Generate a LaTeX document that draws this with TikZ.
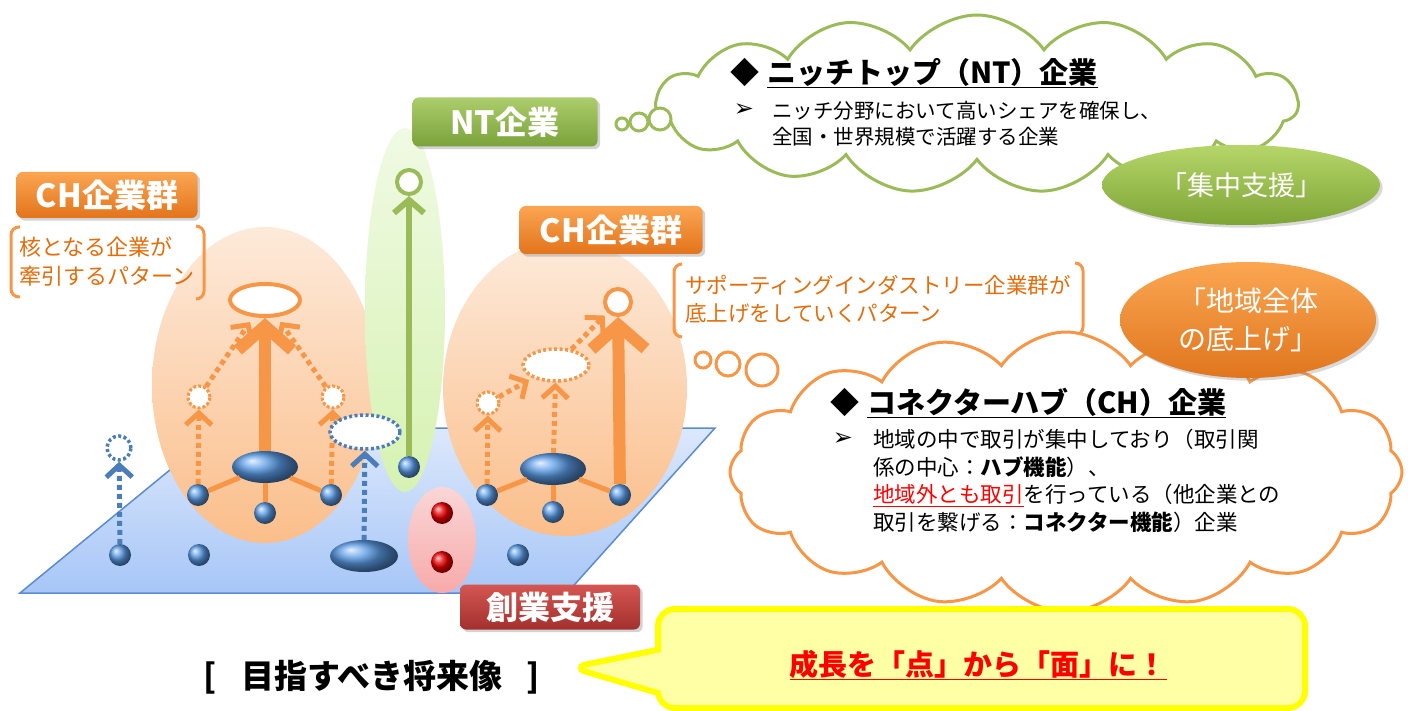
\documentclass[tikz,border=0pt]{standalone}
\usepackage{fontspec}
\setmainfont{Noto Sans CJK JP}
\newfontfamily\dejavu{DejaVu Sans}
\usetikzlibrary{shapes.geometric,shapes.symbols,arrows.meta,shadows}
\definecolor{corange}{HTML}{F79646}
\definecolor{ctxtor}{HTML}{E46C0A}
\definecolor{cgreen}{HTML}{9BBB59}
\definecolor{cblue}{HTML}{5A9BE6}
\definecolor{cbluedot}{HTML}{4A7EBB}
\definecolor{cplaneT}{HTML}{DCE8FC}
\definecolor{cplaneB}{HTML}{A7C6F7}
\definecolor{cplaneD}{HTML}{5B8BD0}
\definecolor{cyfill}{HTML}{FFFFA6}
\definecolor{cyline}{HTML}{FFFF00}
\begin{document}
\begin{tikzpicture}[x=1pt,y=-1pt,
  ballnode/.style={circle, minimum size=22pt, inner sep=0pt, shading=ball, ball color=cblue},
  flatball/.style={ellipse, minimum width=66pt, minimum height=32pt, inner sep=0pt, shading=ball, ball color=cblue},
  redball/.style={circle, minimum size=22pt, inner sep=0pt, shading=ball, ball color=red!95!black},
  ordashcirc/.style={circle, minimum size=22pt, inner sep=0pt, fill=white, draw=corange, line width=3pt, dash pattern=on 3pt off 2pt},
  ordashell/.style={ellipse, minimum width=66pt, minimum height=32pt, inner sep=0pt, fill=white, draw=corange, line width=3.5pt, dash pattern=on 3pt off 2.5pt},
  bldashcirc/.style={circle, minimum size=24pt, inner sep=0pt, fill=white, draw=cbluedot, line width=3.5pt, dash pattern=on 3pt off 2.5pt},
  bldashell/.style={ellipse, minimum width=70pt, minimum height=34pt, inner sep=0pt, fill=white, draw=cbluedot, line width=3.5pt, dash pattern=on 3pt off 2.5pt},
  orline/.style={draw=corange, line width=5pt},
  ordot/.style={draw=corange, line width=5pt, dash pattern=on 5pt off 4pt, -{Straight Barb[length=12pt,width=26pt]}},
  bldot/.style={draw=cbluedot, line width=5pt, dash pattern=on 5pt off 4pt, -{Straight Barb[length=12pt,width=26pt]}},
  bigarrow/.style={draw=corange, line width=12pt, -{Straight Barb[length=24pt,width=54pt]}},
  grarrow/.style={draw=cgreen, line width=6pt, -{Straight Barb[length=13pt,width=30pt]}},
  labelbox/.style={rounded corners=6pt, inner sep=0pt, text=white, font=\bfseries\fontsize{32}{36}\selectfont, drop shadow={opacity=0.35}},
  orbox/.style={labelbox, top color={rgb,255:red,251;green,165;blue,82}, bottom color={rgb,255:red,227;green,116;blue,27}},
  grbox/.style={labelbox, top color={rgb,255:red,172;green,205;blue,108}, bottom color={rgb,255:red,122;green,162;blue,58}},
  rdbox/.style={labelbox, top color={rgb,255:red,212;green,86;blue,82}, bottom color={rgb,255:red,163;green,48;blue,45}},
  brk/.style={draw=corange, line width=3pt, rounded corners=8pt},
  brtext/.style={anchor=west, align=left, inner sep=0pt, text=ctxtor},
  cloudtext/.style={anchor=west, align=left, inner sep=0pt, text=black}
]
\useasboundingbox (0,0) rectangle (1408,711);

% ground plane
\shade[top color=cplaneT, bottom color=cplaneB, draw=cplaneD, line width=1.5pt]
  (20,593) -- (567,593) -- (715,428) -- (221,428) -- cycle;

% group ellipses
\shade[top color={rgb,255:red,253;green,234;blue,218}, bottom color={rgb,255:red,251;green,190;blue,138}]
  (265,385) ellipse (113pt and 158pt);
\shade[top color={rgb,255:red,253;green,234;blue,218}, bottom color={rgb,255:red,251;green,190;blue,138}]
  (565,388) ellipse (122pt and 148pt);
\shade[top color={rgb,255:red,240;green,250;blue,228}, bottom color={rgb,255:red,214;green,242;blue,178}]
  (405,310) ellipse (40pt and 182pt);
\shade[top color={rgb,255:red,250;green,214;blue,214}, bottom color={rgb,255:red,247;green,170;blue,170}]
  (442,540) ellipse (34pt and 53pt);

% left CH group
\node[ballnode] (lb1) at (198,495) {};
\node[ballnode] (lb2) at (265,513) {};
\node[ballnode] (lb3) at (331,495) {};
\node[flatball] (lbe) at (265,467) {};
\node[ordashcirc] (lsc1) at (199,397) {};
\node[ordashcirc] (lsc2) at (333,397) {};
\node[ellipse, minimum width=70pt, minimum height=32pt, inner sep=0pt, fill=white, draw=corange, line width=4pt] (lte) at (265,300) {};
\draw[orline] (lb1) -- (lbe);
\draw[orline] (lb3) -- (lbe);
\draw[orline] (lb2) -- (lbe);
\draw[bigarrow] (lbe) -- (lte);
\draw[ordot] (lb1) -- (lsc1);
\draw[ordot] (lb3) -- (lsc2);
\draw[ordot, shorten >=6pt] (lsc1) -- (lte);
\draw[ordot, shorten >=6pt] (lsc2) -- (lte);

% right CH group
\node[ballnode] (rb1) at (487,495) {};
\node[ballnode] (rb2) at (553,512) {};
\node[ballnode] (rb3) at (620,495) {};
\node[flatball] (rbe) at (553,469) {};
\node[ordashcirc] (rsc) at (488,403) {};
\node[ordashell] (rde) at (556,365) {};
\node[circle, minimum size=26pt, inner sep=0pt, fill=white, draw=corange, line width=4pt] (rtop) at (618,302) {};
\draw[orline] (rb1) -- (rbe);
\draw[orline] (rb2) -- (rbe);
\draw[orline] (rb3) -- (rbe);
\draw[bigarrow] (rb3) -- (rtop);
\draw[ordot] (rb1) -- (rsc);
\draw[ordot] (rbe) -- (rde);
\draw[ordot, shorten >=4pt] (rsc) -- (rde);
\draw[ordot, shorten >=4pt] (rde) -- (rtop);

% middle / loose firms
\node[ballnode] (d1) at (120,555) {};
\node[bldashcirc] (dc) at (119,448) {};
\draw[bldot] (d1) -- (dc);
\node[ballnode] (d2) at (199,555) {};
\node[flatball, minimum width=68pt] (fe) at (364,556) {};
\node[bldashell] (de) at (365,432) {};
\draw[bldot] (fe) -- (de);
\node[ballnode] (d3) at (518,555) {};
\node[redball] (r1) at (442,513) {};
\node[redball] (r2) at (442,562) {};

% NT firm
\node[ballnode] (nb) at (409,467) {};
\node[circle, minimum size=24pt, inner sep=0pt, fill=white, draw=cgreen, line width=4pt] (gc) at (409,182) {};
\draw[grarrow] (nb) -- (gc);

% labels
\node[orbox, minimum width=181pt, minimum height=46pt] (chl) at (107,195) {CH企業群};
\node[grbox, minimum width=185pt, minimum height=49pt] (ntl) at (505,122) {NT企業};
\node[orbox, minimum width=183pt, minimum height=48pt] (chr) at (611,230) {CH企業群};
\node[rdbox, minimum width=180pt, minimum height=45pt] (sgl) at (550,607) {創業支援};

% bracket texts
\draw[brk] (20,227) -- (11,227) -- (11,297) -- (20,297);
\draw[brk] (196,226) -- (204,226) -- (204,299) -- (196,299);
\node[brtext, font=\fontsize{22}{29}\selectfont] (lbt) at (19,262) {核となる企業が\\牽引するパターン};
\draw[brk] (682,264) -- (674,264) -- (674,337) -- (682,337);
\draw[brk] (1075,263) -- (1083,263) -- (1083,335) -- (1075,335);
\node[brtext, font=\fontsize{21.5}{28}\selectfont] (rbt) at (685,299) {サポーティングインダストリー企業群が\\底上げをしていくパターン};

% NT cloud
\node[cloud, cloud puffs=15, cloud puff arc=110, cloud ignores aspect, minimum width=642pt, minimum height=178pt, draw=cgreen, line width=3pt, fill=white] (ntcloud) at (977,104) {};
\node[circle, minimum size=12pt, inner sep=0pt, draw=cgreen, line width=3pt, fill=white] (tb1) at (622,124) {};
\node[circle, minimum size=18pt, inner sep=0pt, draw=cgreen, line width=3pt, fill=white] (tb2) at (639,122) {};
\node[circle, minimum size=22pt, inner sep=0pt, draw=cgreen, line width=3pt, fill=white] (tb3) at (660,119) {};
\node[cloudtext, font=\bfseries\fontsize{29}{32}\selectfont] (nth) at (730,73) {◆\hspace{8pt}\underline{ニッチトップ（NT）企業}};
\node[font=\dejavu\fontsize{24}{26}\selectfont, inner sep=0pt] (ntb) at (744,110) {➢};
\node[cloudtext, font=\fontsize{20.5}{26}\selectfont] (ntt) at (772,124) {ニッチ分野において高いシェアを確保し、\\全国・世界規模で活躍する企業};
\node[ellipse, minimum width=278pt, minimum height=80pt, inner sep=0pt, top color={rgb,255:red,182;green,214;blue,106}, bottom color={rgb,255:red,126;green,164;blue,54}, drop shadow={opacity=0.3}, text=white, font=\fontsize{27}{30}\selectfont] (shien) at (1241,185) {「集中支援」};

% CH cloud
\node[cloud, cloud puffs=16, cloud puff arc=110, cloud ignores aspect, minimum width=672pt, minimum height=280pt, draw=corange, line width=3pt, fill=white] (chcloud) at (1066,472) {};
\node[circle, minimum size=16pt, inner sep=0pt, draw=corange, line width=3pt, fill=white] (ob1) at (703,360) {};
\node[circle, minimum size=24pt, inner sep=0pt, draw=corange, line width=3pt, fill=white] (ob2) at (728,364) {};
\node[circle, minimum size=32pt, inner sep=0pt, draw=corange, line width=3pt, fill=white] (ob3) at (762,370) {};
\node[ellipse, minimum width=256pt, minimum height=116pt, inner sep=0pt, top color={rgb,255:red,251;green,166;blue,82}, bottom color={rgb,255:red,224;green,118;blue,30}, drop shadow={opacity=0.3}, text=white, align=center, font=\fontsize{28}{38}\selectfont] (sokoage) at (1248,320) {「地域全体\\の底上げ」};
\node[cloudtext, font=\bfseries\fontsize{29}{32}\selectfont] (chh) at (830,403) {◆\hspace{8pt}\underline{コネクターハブ（CH）企業}};
\node[font=\dejavu\fontsize{24}{26}\selectfont, inner sep=0pt] (chb) at (843,439) {➢};
\node[cloudtext, font=\fontsize{21.5}{27.5}\selectfont] (cht) at (873,481)
  {地域の中で取引が集中しており（取引関\\
   係の中心：\textbf{ハブ機能}）、\\
   \textcolor{red}{\underline{地域外とも取引}}を行っている（他企業との\\
   取引を繋げる：\textbf{コネクター機能}）企業};

% bottom caption and callout
\node[font=\bfseries\fontsize{33}{36}\selectfont, inner sep=0pt] (cap) at (372,677) {[\hspace{24pt}目指すべき将来像\hspace{24pt}]};
\draw[cyline, line width=12pt, rounded corners=14pt] (661,612) rectangle (1302,705);
\draw[cyline, line width=12pt, line join=round] (672,650) -- (584,668) -- (672,694) -- cycle;
\fill[cyfill, rounded corners=14pt] (661,612) rectangle (1302,705);
\fill[cyfill] (672,650) -- (584,668) -- (672,694) -- cycle;
\node[text=red, font=\bfseries\fontsize{29}{32}\selectfont] (goal) at (978,665) {\underline{成長を「点」から「面」に！}};
\end{tikzpicture}
\end{document}
